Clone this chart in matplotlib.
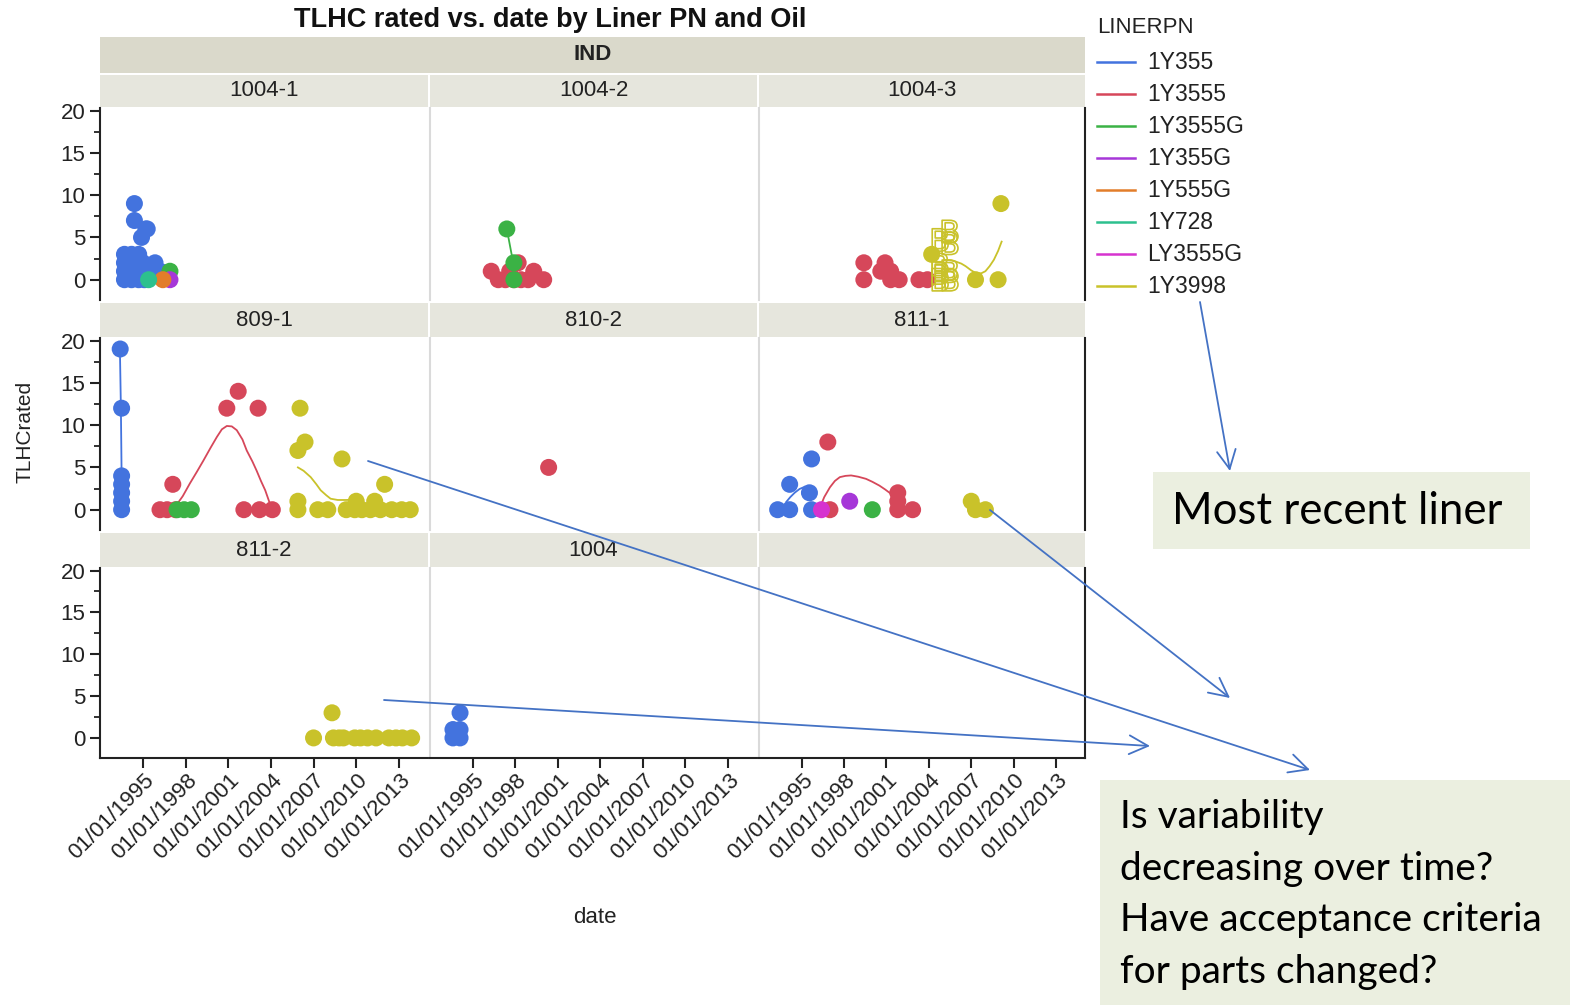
import numpy as np
import matplotlib.pyplot as plt
from matplotlib.patches import Rectangle
from matplotlib.transforms import ScaledTranslation

W, H = 1570, 1005
plt.rcParams['font.family'] = ['Liberation Sans', 'DejaVu Sans']

# ---- data (date as decimal year, value = TLHCrated) ----
liners = ['1Y355', '1Y3555', '1Y3555G', '1Y355G', '1Y555G', '1Y728', 'LY3555G', '1Y3998']
liner_colors = ['#4373DE', '#D6475A', '#3BB245', '#A637D8', '#E27D2A', '#2DC08E', '#D633CF', '#C9C22A']
panel_names = ['1004-1', '1004-2', '1004-3', '809-1', '810-2', '811-1', '811-2', '1004', '']
year_ticks = [1995, 1998, 2001, 2004, 2007, 2010, 2013]

pts_1004_1 = [('1Y355', 1994.4, 9), ('1Y355', 1994.4, 7), ('1Y355', 1995.2, 6), ('1Y355', 1995.3, 6),
              ('1Y355', 1994.9, 5), ('1Y355', 1993.7, 3), ('1Y355', 1994.2, 3), ('1Y355', 1994.7, 3),
              ('1Y355', 1993.9, 2.5), ('1Y355', 1993.7, 2), ('1Y355', 1994.5, 2), ('1Y355', 1995.0, 2),
              ('1Y355', 1993.7, 1), ('1Y355', 1994.3, 1), ('1Y355', 1995.0, 1), ('1Y355', 1993.7, 0),
              ('1Y355', 1994.2, 0), ('1Y355', 1994.7, 0), ('1Y355', 1995.1, 0), ('1Y355', 1995.85, 2),
              ('1Y355', 1996.2, 1), ('1Y355', 1995.6, 1), ('1Y355', 1994.0, 1.5), ('1Y355', 1994.6, 0.5),
              ('1Y3555G', 1996.9, 1), ('1Y355G', 1996.9, 0), ('1Y555G', 1996.4, 0), ('1Y728', 1995.4, 0)]
pts_1004_2 = [('1Y3555', 1996.3, 1), ('1Y3555', 1996.8, 0), ('1Y3555', 1997.3, 0), ('1Y3555', 1997.6, 1),
              ('1Y3555', 1997.9, 0), ('1Y3555', 1998.2, 2), ('1Y3555', 1998.4, 0), ('1Y3555', 1998.9, 0),
              ('1Y3555', 1999.3, 1), ('1Y3555', 2000.0, 0),
              ('1Y3555G', 1997.4, 6), ('1Y3555G', 1997.9, 2), ('1Y3555G', 1997.9, 0)]
pts_1004_3 = [('1Y3555', 1999.4, 2), ('1Y3555', 1999.4, 0), ('1Y3555', 2000.6, 1), ('1Y3555', 2000.9, 2),
              ('1Y3555', 2001.3, 1), ('1Y3555', 2001.3, 0), ('1Y3555', 2001.9, 0), ('1Y3555', 2003.3, 0),
              ('1Y3555', 2003.9, 0),
              ('1Y3998', 2004.2, 3), ('1Y3998', 2007.3, 0), ('1Y3998', 2008.9, 0), ('1Y3998', 2009.1, 9)]
pts_809_1 = [('1Y355', 1993.4, 19), ('1Y355', 1993.5, 12), ('1Y355', 1993.5, 4), ('1Y355', 1993.5, 3),
             ('1Y355', 1993.5, 2), ('1Y355', 1993.5, 1), ('1Y355', 1993.5, 0),
             ('1Y3555', 1996.2, 0), ('1Y3555', 1996.7, 0), ('1Y3555', 1997.1, 3), ('1Y3555', 1997.3, 0),
             ('1Y3555', 2000.9, 12), ('1Y3555', 2001.7, 14), ('1Y3555', 2003.1, 12), ('1Y3555', 2002.1, 0),
             ('1Y3555', 2003.2, 0), ('1Y3555', 2004.1, 0),
             ('1Y3555G', 1997.4, 0), ('1Y3555G', 1997.9, 0), ('1Y3555G', 1998.4, 0),
             ('1Y3998', 2006.05, 12), ('1Y3998', 2006.4, 8), ('1Y3998', 2005.9, 7), ('1Y3998', 2009.0, 6),
             ('1Y3998', 2012.0, 3), ('1Y3998', 2005.9, 1), ('1Y3998', 2005.9, 0), ('1Y3998', 2007.3, 0),
             ('1Y3998', 2008.0, 0), ('1Y3998', 2009.3, 0), ('1Y3998', 2009.9, 0), ('1Y3998', 2010.0, 1),
             ('1Y3998', 2010.4, 0), ('1Y3998', 2011.3, 1), ('1Y3998', 2011.7, 0), ('1Y3998', 2012.5, 0),
             ('1Y3998', 2013.2, 0), ('1Y3998', 2013.8, 0), ('1Y3998', 2011.0, 0)]
pts_810_2 = [('1Y3555', 2000.35, 5)]
pts_811_1 = [('1Y355', 1993.3, 0), ('1Y355', 1994.15, 0), ('1Y355', 1994.15, 3), ('1Y355', 1995.7, 6),
             ('1Y355', 1995.55, 2), ('1Y355', 1995.7, 0),
             ('1Y3555', 1996.85, 8), ('1Y3555', 1997.0, 0), ('1Y3555', 2001.8, 2), ('1Y3555', 2001.8, 1),
             ('1Y3555', 2001.8, 0), ('1Y3555', 2002.85, 0),
             ('1Y3555G', 2000.0, 0), ('1Y355G', 1998.4, 1), ('LY3555G', 1996.4, 0),
             ('1Y3998', 2007.0, 1), ('1Y3998', 2007.3, 0), ('1Y3998', 2008.0, 0)]
pts_811_2 = [('1Y3998', 2008.3, 3), ('1Y3998', 2007.0, 0), ('1Y3998', 2008.4, 0), ('1Y3998', 2008.8, 0),
             ('1Y3998', 2009.1, 0), ('1Y3998', 2009.9, 0), ('1Y3998', 2010.3, 0), ('1Y3998', 2010.8, 0),
             ('1Y3998', 2011.4, 0), ('1Y3998', 2012.3, 0), ('1Y3998', 2012.8, 0), ('1Y3998', 2013.25, 0),
             ('1Y3998', 2013.9, 0)]
pts_1004 = [('1Y355', 1993.6, 1), ('1Y355', 1994.1, 1), ('1Y355', 1993.6, 0), ('1Y355', 1994.1, 0),
            ('1Y355', 1994.1, 3)]

# hollow "B" markers of 1Y3998 in panel 1004-3
b_dates = [2004.8, 2004.8, 2004.8, 2004.8, 2005.5, 2005.5, 2005.5, 2005.5]
b_vals = [0, 0.8, 1.8, 4.7, 0, 1.0, 4.3, 5.7]

# smoother curves: (panel, liner, dates, values)
curves = [
    ('1004-2', '1Y3555G', [1997.4, 1997.85, 1997.9], [6, 2, 0.3]),
    ('1004-3', '1Y3998', [2005.17, 2005.5, 2005.9, 2006.3, 2006.6, 2007.0, 2007.3, 2007.7, 2008.0, 2008.3,
                          2008.6, 2008.9, 2009.15],
     [2.35, 2.3, 2.15, 1.9, 1.6, 1.1, 0.8, 0.75, 1.0, 1.6, 2.35, 3.4, 4.5]),
    ('809-1', '1Y355', [1993.38, 1993.45, 1993.5], [19, 12, 4]),
    ('809-1', '1Y3555', [1997.25, 1997.8, 1998.3, 1998.8, 1999.25, 1999.75, 2000.2, 2000.55, 2000.9, 2001.25,
                         2001.6, 2002.0, 2002.3, 2002.7, 2003.0, 2003.3, 2003.6, 2003.85, 2004.1],
     [0.3, 1.6, 3.1, 4.5, 5.8, 7.3, 8.6, 9.5, 9.9, 9.85, 9.4, 8.3, 7.0, 5.7, 4.6, 3.4, 2.3, 1.1, -0.1]),
    ('809-1', '1Y3998', [2005.9, 2006.3, 2006.8, 2007.2, 2007.5, 2007.9, 2008.2, 2008.7, 2009.3, 2010.0],
     [5.0, 4.6, 3.85, 3.0, 2.3, 1.7, 1.3, 1.15, 1.15, 1.2]),
    ('811-1', '1Y355', [1993.9, 1994.2, 1994.5, 1994.85, 1995.2], [0.9, 1.5, 2.0, 2.45, 2.7]),
    ('811-1', '1Y3555', [1996.3, 1996.6, 1997.0, 1997.35, 1997.7, 1998.1, 1998.5, 1999.0, 1999.55, 2000.0,
                         2000.5, 2000.9, 2001.3, 2001.6],
     [0.3, 1.5, 2.65, 3.4, 3.85, 4.0, 4.05, 3.9, 3.65, 3.3, 2.85, 2.4, 1.9, 1.4]),
]

panel_points = {'1004-1': pts_1004_1, '1004-2': pts_1004_2, '1004-3': pts_1004_3,
                '809-1': pts_809_1, '810-2': pts_810_2, '811-1': pts_811_1,
                '811-2': pts_811_2, '1004': pts_1004, '': []}
color_of = dict(zip(liners, liner_colors))


def box(x0, y0, x1, y1):
    return [x0 / W, 1 - y1 / H, (x1 - x0) / W, (y1 - y0) / H]


fig = plt.figure(figsize=(W / 100, H / 100), dpi=100)

col_x = [(100, 428), (430, 757), (759, 1085)]
row_y = [(108, 300), (338, 530), (568, 758)]
strip_y = [(75, 107), (303, 337), (533, 567)]
strip_c = '#E6E6DD'
fs = 16

# top "IND" strip
sa = fig.add_axes(box(100, 37, 1085, 73))
sa.set_facecolor('#DAD9CB')
sa.set_xticks([]); sa.set_yticks([])
for s in sa.spines.values():
    s.set_visible(False)
sa.text(0.5, 0.5, 'IND', ha='center', va='center', fontsize=fs, fontweight='bold', color='#222222')

for i, name in enumerate(panel_names):
    r, c = divmod(i, 3)
    x0, x1 = col_x[c]
    y0, y1 = row_y[r]
    st = fig.add_axes(box(x0, strip_y[r][0], x1, strip_y[r][1]))
    st.set_facecolor(strip_c)
    st.set_xticks([]); st.set_yticks([])
    for s in st.spines.values():
        s.set_visible(False)
    st.text(0.5, 0.5, name, ha='center', va='center', fontsize=fs, color='#222222')

    ax = fig.add_axes(box(x0, y0, x1, y1))
    ax.set_xlim(1991.98, 2015.05)
    ax.set_ylim(-2.4, 20.3)
    for s in ax.spines.values():
        s.set_visible(False)
    if c == 0:
        ax.spines['left'].set_visible(True)
        ax.spines['left'].set_color('#222222')
        ax.spines['left'].set_linewidth(1.5)
        ax.set_yticks([0, 5, 10, 15, 20])
        ax.set_yticks([2.5, 7.5, 12.5, 17.5], minor=True)
        ax.tick_params(axis='y', which='major', length=7, width=1.5, labelsize=fs, colors='#222222')
        ax.tick_params(axis='y', which='minor', length=4, width=1.3, colors='#222222')
    else:
        ax.spines['left'].set_visible(True)
        ax.spines['left'].set_color('#DADADA')
        ax.spines['left'].set_linewidth(1.5)
        ax.set_yticks([])
    if c == 2:
        ax.spines['right'].set_visible(True)
        ax.spines['right'].set_color('#222222')
        ax.spines['right'].set_linewidth(1.5)
    if r == 2:
        ax.spines['bottom'].set_visible(True)
        ax.spines['bottom'].set_color('#222222')
        ax.spines['bottom'].set_linewidth(1.5)
        ax.set_xticks(year_ticks)
        ax.set_xticklabels(['01/01/%d' % y for y in year_ticks], rotation=45, ha='right',
                           va='center', rotation_mode='anchor')
        ax.tick_params(axis='x', length=7, width=1.5, labelsize=fs, colors='#222222', pad=7)
        for lbl in ax.get_xticklabels():
            lbl.set_transform(lbl.get_transform() + ScaledTranslation(0.08, 0, fig.dpi_scale_trans))
    else:
        ax.set_xticks([])

    for (pn, ln, dd, vv) in curves:
        if pn == name:
            ax.plot(dd, vv, color=color_of[ln], lw=1.3, zorder=2)

    pts = panel_points[name]
    for ln in liners:
        sel = [(d, v) for (l, d, v) in pts if l == ln]
        if sel:
            dd, vv = zip(*sel)
            ax.scatter(dd, vv, s=150, color=color_of[ln], edgecolors='none', zorder=3)
    if name == '1004-3':
        ax.scatter(b_dates, b_vals, s=260, marker=r'$\mathrm{B}$', facecolors='none',
                   edgecolors=color_of['1Y3998'], linewidths=1.2, zorder=4)

# overlay for titles, legend, annotations
ov = fig.add_axes([0, 0, 1, 1], zorder=10)
ov.set_xlim(0, W)
ov.set_ylim(H, 0)
ov.axis('off')

ov.text(550, 20, 'TLHC rated vs. date by Liner PN and Oil', ha='center', va='center',
        fontsize=19.5, fontweight='bold', color='#111111')
ov.text(25, 432, 'TLHCrated', rotation=90, ha='center', va='center', fontsize=15, color='#222222')
ov.text(595, 917, 'date', ha='center', va='center', fontsize=16, color='#222222')

ov.text(1097, 27, 'LINERPN', ha='left', va='center', fontsize=16, color='#222222')
for k, ln in enumerate(liners):
    yy = 62 + k * 32
    ov.plot([1097, 1135], [yy, yy], color=color_of[ln], lw=1.8)
    ov.text(1147, yy, ln, ha='left', va='center', fontsize=16.5, color='#222222')

box_c = '#EBEFE0'
ov.add_patch(Rectangle((1153, 472), 377, 77, facecolor=box_c, edgecolor='none'))
ov.text(1172, 511, 'Most recent liner', ha='left', va='center', fontsize=31.5,
        family=['Lato', 'DejaVu Sans'], color='black')
ov.add_patch(Rectangle((1100, 780), 470, 225, facecolor=box_c, edgecolor='none'))
for k, t in enumerate(['Is variability', 'decreasing over time?', 'Have acceptance criteria',
                       'for parts changed?']):
    ov.text(1120, 817 + k * 51.5, t, ha='left', va='center', fontsize=28,
            family=['Lato', 'DejaVu Sans'], color='black')

arrow_c = '#4472C4'
arrows = [((1200, 302), (1230, 471)), ((368, 461), (1310, 770)),
          ((990, 510), (1230, 698)), ((384, 700), (1150, 746))]
for a, b in arrows:
    ov.annotate('', xy=b, xytext=a,
                arrowprops=dict(arrowstyle='->, head_length=0.9, head_width=0.45',
                                color=arrow_c, lw=1.3, mutation_scale=15,
                                shrinkA=0, shrinkB=0))

fig.savefig('out.png', dpi=100)
